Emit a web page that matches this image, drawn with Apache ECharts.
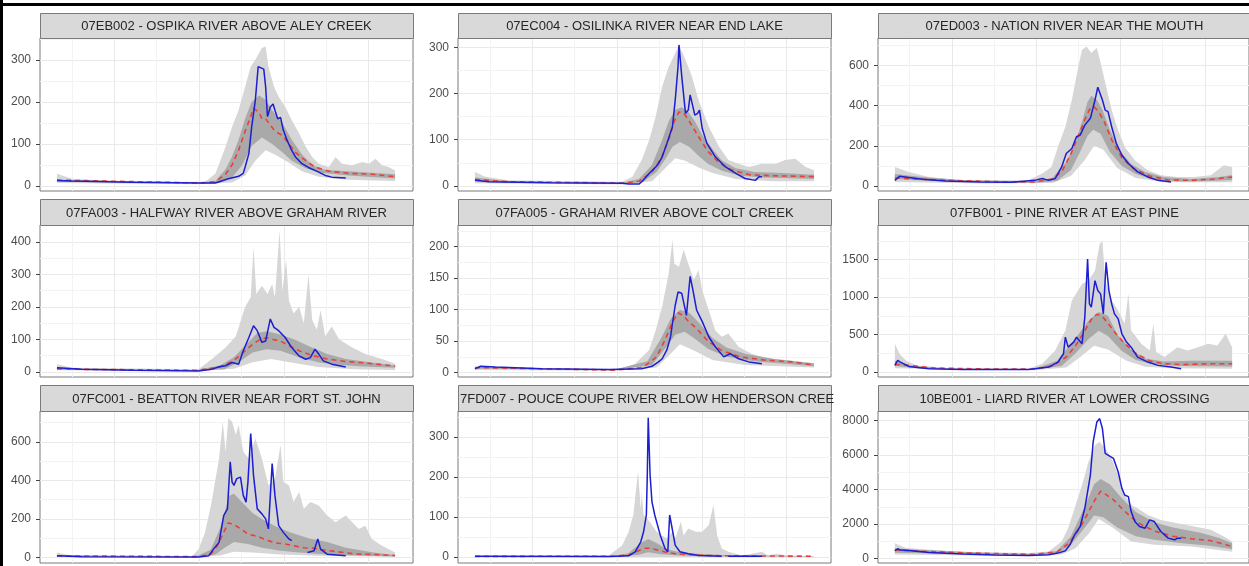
<!DOCTYPE html>
<html>
<head>
<meta charset="utf-8">
<script src="https://cdn.jsdelivr.net/npm/echarts@6/dist/echarts.min.js"></script>
<style>
html, body { margin: 0; padding: 0; background: #fff; }
#main { width: 1249px; height: 566px; }
</style>
</head>
<body>
<div id="main"></div>
<script>
// station strips, left to right, top to bottom
var titles = [
	'07EB002 - OSPIKA RIVER ABOVE ALEY CREEK',
	'07EC004 - OSILINKA RIVER NEAR END LAKE',
	'07ED003 - NATION RIVER NEAR THE MOUTH',
	'07FA003 - HALFWAY RIVER ABOVE GRAHAM RIVER',
	'07FA005 - GRAHAM RIVER ABOVE COLT CREEK',
	'07FB001 - PINE RIVER AT EAST PINE',
	'07FC001 - BEATTON RIVER NEAR FORT ST. JOHN',
	'7FD007 - POUCE COUPE RIVER BELOW HENDERSON CREE',
	'10BE001 - LIARD RIVER AT LOWER CROSSING'
];

// free y scales (ggplot style, 5% padding)
var yMin = [-12, -11, -25, -15.5, -7, -66, -29, -15, -247];
var yMax = [352, 320, 737, 452, 234.5, 1960, 760, 365, 8533];
var yTicks = [
	[0, 100, 200, 300],
	[0, 100, 200, 300],
	[0, 200, 400, 600],
	[0, 100, 200, 300, 400],
	[0, 50, 100, 150, 200],
	[0, 500, 1000, 1500],
	[0, 200, 400, 600],
	[0, 100, 200, 300],
	[0, 2000, 4000, 6000, 8000]
];

// day of year (0..364)
var xMin = -18.2, xMax = 382.2;
var dayBreaks = [61.5, 152.5, 243.5, 334.5];
var dayMinorBreaks = [16, 107, 198, 289];

// historical maximum
var maxFlow = [
	[[0,29],[16,17],[60,12],[120,10],[159,10],[170,29],[181,93],[188,141],[195,180],[202,236],[208,284],[213,300],[220,328],[224,332],[227,284],[233,236],[238,212],[245,188],[252,157],[260,125],[267,93],[274,69],[281,53],[292,45],[299,69],[306,53],[317,49],[328,57],[335,53],[342,65],[349,49],[356,45],[363,37]],
	[[0,30],[11,20],[36,12],[158,9],[169,20],[179,56],[187,99],[194,150],[201,215],[208,258],[215,287],[219,305],[226,273],[233,236],[240,186],[251,128],[262,85],[272,56],[283,48],[294,41],[308,48],[323,48],[333,56],[344,59],[355,41],[364,34]],
	[[0,95],[15,70],[37,45],[73,28],[144,28],[159,62],[169,95],[176,195],[184,295],[191,428],[198,595],[202,678],[207,695],[212,662],[218,688],[223,595],[228,495],[234,378],[241,278],[248,195],[259,128],[273,78],[287,53],[305,45],[323,45],[341,53],[355,103],[364,95]],
	[[0,24],[16,13],[152,8],[166,39],[181,75],[192,110],[202,200],[208,230],[211,385],[214,240],[220,265],[226,240],[231,270],[234,230],[239,436],[242,250],[246,345],[249,220],[254,180],[260,200],[265,150],[270,300],[274,160],[279,130],[283,190],[288,110],[295,140],[303,100],[317,75],[331,55],[349,40],[363,25]],
	[[0,9],[22,6],[158,5],[172,14],[187,36],[194,67],[201,105],[208,158],[212,211],[214,173],[219,168],[224,195],[229,173],[235,147],[240,163],[244,131],[251,99],[258,67],[265,57],[272,62],[283,41],[297,30],[315,22],[333,17],[364,12]],
	[[0,377],[5,244],[12,155],[23,89],[55,58],[144,44],[159,111],[173,288],[184,554],[191,953],[202,1175],[209,1219],[216,1352],[221,1707],[224,1751],[227,1219],[234,953],[241,820],[248,643],[252,1042],[255,554],[266,377],[275,288],[279,643],[282,266],[291,199],[305,332],[316,288],[327,332],[338,377],[348,355],[357,510],[364,332]],
	[[0,26],[16,9],[145,5],[152,43],[159,130],[166,287],[174,513],[178,704],[181,548],[184,722],[188,704],[192,635],[195,687],[200,548],[206,513],[213,617],[220,513],[227,374],[234,409],[240,583],[243,391],[249,374],[254,287],[260,339],[265,252],[272,287],[281,270],[290,217],[299,183],[310,217],[317,183],[324,148],[331,165],[338,96],[349,61],[363,26]],
	[[0,3],[144,4],[151,17],[158,29],[165,63],[170,105],[175,214],[178,121],[179,163],[181,105],[185,96],[190,80],[195,63],[201,54],[206,46],[212,63],[215,46],[221,88],[224,54],[229,71],[237,63],[244,63],[251,80],[256,130],[260,54],[265,21],[272,13],[287,4],[308,13],[315,4],[323,8],[337,3],[364,2]],
	[[0,900],[12,615],[73,385],[144,325],[166,420],[180,1000],[187,1765],[194,2915],[202,4258],[209,5600],[216,6560],[221,6751],[227,6367],[234,5792],[241,4833],[248,3682],[255,3107],[262,2915],[273,2532],[287,2244],[305,2052],[323,1860],[341,1669],[355,1285],[364,997]]
];

// 75th percentile
var p75Flow = [
	[[0,15],[152,8],[170,12],[181,40],[188,70],[195,110],[202,160],[209,200],[217,215],[224,205],[231,180],[242,150],[252,110],[263,75],[274,50],[288,38],[313,35],[363,28]],
	[[0,18],[36,10],[158,7],[176,15],[190,45],[201,100],[208,140],[215,165],[222,170],[229,160],[236,140],[244,110],[255,80],[265,55],[280,38],[300,30],[330,28],[364,24]],
	[[0,60],[30,45],[70,30],[150,22],[170,40],[185,120],[195,220],[202,320],[208,420],[212,450],[218,430],[224,380],[232,280],[242,180],[255,110],[270,70],[290,45],[320,35],[350,45],[364,55]],
	[[0,12],[30,8],[150,6],[175,20],[190,45],[205,90],[215,120],[225,125],[240,115],[255,100],[270,80],[290,55],[310,40],[340,28],[363,20]],
	[[0,9],[150,5],[185,18],[200,55],[210,85],[220,100],[230,95],[240,80],[255,55],[270,40],[290,30],[320,22],[364,15]],
	[[0,150],[20,80],[60,45],[150,40],[175,150],[195,450],[210,700],[220,800],[230,750],[240,500],[255,300],[270,180],[290,140],[320,150],[364,150]],
	[[0,12],[150,6],[165,40],[175,150],[185,320],[190,330],[200,280],[210,230],[220,200],[235,160],[250,130],[270,100],[290,80],[310,50],[340,25],[363,12]],
	[[0,1],[150,2],[165,10],[178,35],[186,45],[195,35],[205,20],[220,12],[240,8],[265,5],[364,2]],
	[[0,600],[30,500],[100,350],[150,280],[175,450],[190,1300],[205,3000],[215,4300],[222,4600],[232,4300],[245,3500],[260,2700],[280,2100],[300,1800],[330,1500],[350,1200],[364,900]]
];

// median
var medianFlow = [
	[[0,14],[152,7],[170,10],[181,28],[188,50],[195,85],[202,130],[208,165],[211,185],[217,175],[220,160],[224,160],[229,145],[234,130],[242,120],[249,100],[256,80],[267,60],[277,45],[292,35],[313,30],[338,28],[363,22]],
	[[0,14],[36,9],[158,6],[176,10],[190,30],[200,60],[208,100],[214,140],[219,160],[224,158],[230,140],[236,120],[242,100],[250,75],[262,50],[275,35],[295,24],[320,22],[364,20]],
	[[0,40],[20,35],[60,28],[120,20],[150,20],[170,35],[180,70],[190,160],[198,250],[205,330],[210,380],[215,395],[220,370],[226,320],[234,230],[245,140],[258,85],[275,50],[295,30],[320,28],[345,35],[364,45]],
	[[0,10],[30,8],[150,5],[175,15],[190,35],[200,60],[210,85],[218,100],[225,105],[232,100],[240,95],[250,80],[260,65],[275,50],[290,40],[310,32],[330,28],[350,22],[363,18]],
	[[0,8],[150,4],[180,8],[195,25],[205,55],[212,80],[218,95],[224,90],[230,80],[238,70],[250,50],[265,35],[285,25],[310,20],[340,17],[364,12]],
	[[0,100],[15,90],[40,55],[100,40],[150,38],[170,80],[185,200],[195,350],[205,550],[212,700],[218,770],[224,740],[230,650],[238,520],[248,380],[260,250],[275,150],[290,110],[310,100],[340,110],[364,110]],
	[[0,8],[150,4],[165,15],[172,60],[178,120],[184,180],[190,170],[197,150],[205,120],[215,110],[225,90],[235,75],[245,70],[255,60],[265,50],[275,48],[285,40],[300,30],[320,18],[340,15],[363,10]],
	[[0,1.5],[150,2],[165,5],[175,15],[182,22],[188,22],[195,18],[205,12],[215,8],[230,6],[250,4],[270,3],[364,2]],
	[[0,500],[20,450],[80,330],[150,250],[175,400],[188,900],[200,1800],[210,2800],[216,3400],[222,3900],[228,3700],[236,3400],[245,2900],[255,2400],[265,2000],[280,1600],[300,1300],[320,1150],[340,1050],[355,850],[364,700]]
];

// 25th percentile
var p25Flow = [
	[[0,10],[152,6],[174,7],[188,20],[199,50],[209,95],[220,115],[231,100],[242,80],[252,60],[267,42],[281,32],[313,25],[363,18]],
	[[0,10],[36,7],[158,5],[180,8],[195,30],[205,60],[212,85],[220,95],[230,85],[240,65],[250,48],[265,33],[285,22],[310,18],[364,15]],
	[[0,35],[40,25],[150,15],[175,25],[190,80],[200,170],[208,250],[214,280],[222,260],[232,170],[245,100],[260,60],[280,30],[310,22],[340,25],[364,30]],
	[[0,7],[150,4],[180,8],[195,30],[210,60],[225,70],[240,65],[260,45],[280,30],[300,22],[330,17],[363,13]],
	[[0,6],[150,4],[190,12],[205,40],[215,60],[225,65],[235,55],[250,38],[270,25],[300,18],[364,10]],
	[[0,80],[30,45],[150,30],[180,80],[195,250],[210,450],[220,550],[230,480],[245,280],[260,160],[280,100],[310,80],[364,75]],
	[[0,6],[150,3],[170,15],[180,50],[190,80],[205,70],[220,50],[240,35],[260,25],[290,15],[330,8],[363,5]],
	[[0,0.5],[150,1],[175,5],[186,12],[200,7],[220,4],[265,2],[364,1]],
	[[0,350],[50,300],[150,200],[175,300],[190,800],[205,1800],[215,2500],[225,2400],[240,1800],[260,1300],[280,1100],[310,900],[340,750],[364,550]]
];

// historical minimum
var minFlow = [
	[[0,7],[152,4],[188,8],[202,25],[213,60],[224,85],[234,75],[249,55],[263,35],[281,22],[313,15],[363,12]],
	[[0,6],[158,3],[190,10],[205,40],[215,60],[225,55],[240,40],[255,28],[280,15],[320,10],[364,10]],
	[[0,20],[100,12],[170,15],[190,50],[205,130],[215,200],[225,180],[240,90],[260,40],[290,18],[364,18]],
	[[0,5],[150,3],[190,10],[210,30],[230,40],[250,30],[280,15],[320,8],[363,6]],
	[[0,4],[150,3],[195,8],[210,30],[220,45],[235,35],[255,20],[290,12],[364,8]],
	[[0,50],[150,25],[185,60],[200,200],[215,350],[230,300],[250,150],[270,70],[300,50],[364,45]],
	[[0,4],[150,2],[175,10],[190,30],[210,25],[240,15],[280,8],[363,3]],
	[[0,0],[364,0]],
	[[0,250],[150,150],[180,250],[195,600],[210,1500],[220,2300],[235,1800],[255,1000],[280,800],[320,700],[364,400]]
];

// current year (null = missing record)
var currentFlow = [
	[[0,13],[16,12],[80,9],[152,7],[170,7],[174,10],[184,17],[195,23],[200,30],[202,45],[206,77],[209,140],[213,205],[216,284],[218,280],[222,278],[224,236],[226,165],[229,188],[232,195],[234,180],[237,160],[240,163],[243,133],[247,109],[251,89],[256,69],[263,53],[270,44],[277,37],[281,33],[288,25],[295,21],[310,19]],
	[[0,12],[15,9],[80,7],[158,6],[165,4],[176,4],[179,9],[187,27],[194,41],[197,48],[201,63],[206,92],[212,128],[215,186],[218,258],[219,305],[222,237],[226,157],[229,164],[231,197],[234,171],[236,153],[239,157],[241,164],[244,124],[249,92],[258,63],[269,41],[280,27],[290,16],[301,12],[305,20],[308,20]],
	[[0,28],[5,48],[15,42],[30,33],[55,25],[91,20],[126,18],[151,28],[159,37],[166,28],[173,37],[180,95],[185,162],[191,187],[196,245],[200,253],[205,303],[211,337],[216,428],[219,492],[221,487],[224,428],[227,378],[230,370],[234,295],[239,212],[245,153],[252,112],[262,70],[273,45],[284,28],[298,20]],
	[[0,13],[27,8],[81,5],[152,3],[166,8],[174,16],[181,19],[188,29],[195,24],[200,65],[206,106],[211,142],[215,127],[220,91],[224,95],[229,163],[233,137],[238,127],[245,106],[252,75],[260,49],[267,39],[272,44],[277,70],[281,55],[286,34],[295,24],[310,15]],
	[[0,6],[6,10],[22,9],[72,6],[144,5],[179,6],[190,10],[197,17],[201,22],[206,36],[210,57],[212,78],[215,107],[218,128],[222,126],[227,91],[231,153],[234,131],[238,99],[244,81],[251,57],[258,41],[267,25],[274,30],[283,22],[294,17],[308,14]],
	[[0,89],[3,155],[6,133],[15,75],[37,44],[73,35],[144,35],[166,66],[176,133],[182,244],[184,465],[187,332],[193,399],[196,465],[202,377],[205,731],[208,1507],[210,909],[212,864],[216,1219],[219,1086],[222,1042],[225,776],[228,1463],[231,1086],[234,909],[237,776],[241,709],[245,510],[250,399],[255,332],[262,199],[273,133],[284,89],[298,66],[309,44]],
	[[0,9],[27,3],[152,2],[163,9],[168,43],[174,78],[179,217],[183,252],[186,496],[188,391],[190,374],[193,409],[197,417],[200,322],[203,287],[205,391],[208,643],[211,426],[215,252],[220,226],[224,200],[227,148],[231,487],[234,322],[238,165],[243,130],[249,96],[252,87],[260,null],[269,26],[276,35],[280,96],[283,43],[290,17],[310,9]],
	[[0,2],[144,1],[165,3],[172,13],[178,38],[181,63],[184,105],[185,205],[186,348],[188,205],[190,138],[193,105],[199,54],[204,21],[207,13],[209,105],[211,80],[215,29],[220,13],[229,8],[240,4],[265,2],[268,null],[272,2],[308,2]],
	[[0,460],[3,575],[6,500],[15,480],[37,365],[73,270],[108,210],[144,190],[166,230],[176,325],[184,460],[189,805],[194,1380],[200,1860],[205,2915],[211,4833],[214,6751],[218,7902],[221,8094],[224,7518],[227,6080],[230,5984],[236,5792],[241,5025],[245,4066],[248,3682],[252,3587],[255,2723],[259,2148],[264,1860],[270,1764],[275,2244],[280,2148],[287,1573],[295,1189],[302,1093],[305,1189],[309,1189]]
];

var colLeft = [40, 458, 878];
var panelWidth = 373;
var stripTop = [13, 199, 385];
var plotTop = [38, 225, 411];
var plotHeight = [153, 152, 152];

// minor y breaks halfway between the labelled ones
function minorBreaks(ticks, max) {
	var step = ticks[1] - ticks[0];
	var out = [];
	for (var v = ticks[0] + step / 2; v < max; v += step) out.push(v);
	return out;
}

// ribbon between two curves, drawn as one polygon
function ribbon(i, upper, lower, color, z) {
	return {
		type: 'custom',
		xAxisIndex: 2 * i,
		yAxisIndex: 2 * i,
		data: [[0, 0]],
		silent: true,
		z: z,
		renderItem: function(params, api) {
			var pts = [];
			upper.forEach(function(p) { pts.push(api.coord(p)); });
			lower.slice().reverse().forEach(function(p) { pts.push(api.coord(p)); });
			return {
				type: 'polygon',
				shape: { points: pts },
				style: { fill: color }
			};
		}
	};
}

var grids = [], xAxes = [], yAxes = [], series = [], graphics = [];

for (var i = 0; i < 9; i++) {
	var r = Math.floor(i / 3), c = i % 3;
	grids.push({
		left: colLeft[c], top: plotTop[r], width: panelWidth, height: plotHeight[r],
		show: true, borderColor: '#7a7a7a', borderWidth: 1, backgroundColor: 'transparent'
	});
	xAxes.push({
		gridIndex: i, type: 'value', min: xMin, max: xMax,
		axisLine: { show: false, onZero: false }, axisLabel: { show: false },
		axisTick: { show: false, customValues: dayBreaks },
		splitLine: { show: true, lineStyle: { color: '#e9e9e9', width: 1 } }
	});
	xAxes.push({
		gridIndex: i, type: 'value', min: xMin, max: xMax,
		axisLine: { show: false, onZero: false }, axisLabel: { show: false },
		axisTick: { show: false, customValues: dayMinorBreaks },
		splitLine: { show: true, lineStyle: { color: '#f3f3f3', width: 1 } }
	});
	yAxes.push({
		gridIndex: i, type: 'value', position: 'left', min: yMin[i], max: yMax[i],
		axisLine: { show: false, onZero: false },
		axisTick: { show: true, length: 4, lineStyle: { color: '#444' }, customValues: yTicks[i] },
		axisLabel: {
			color: '#4d4d4d', fontSize: 12, margin: 9, customValues: yTicks[i],
			formatter: function(v) { return String(v); }
		},
		splitLine: { show: true, lineStyle: { color: '#e9e9e9', width: 1 } }
	});
	yAxes.push({
		gridIndex: i, type: 'value', position: 'left', min: yMin[i], max: yMax[i],
		axisLine: { show: false, onZero: false }, axisLabel: { show: false },
		axisTick: { show: false, customValues: minorBreaks(yTicks[i], yMax[i]) },
		splitLine: { show: true, lineStyle: { color: '#f3f3f3', width: 1 } }
	});

	series.push(ribbon(i, maxFlow[i], minFlow[i], '#d6d6d6', 1));
	series.push(ribbon(i, p75Flow[i], p25Flow[i], '#a9a9a9', 2));
	series.push({
		type: 'line', xAxisIndex: 2 * i, yAxisIndex: 2 * i, data: medianFlow[i],
		showSymbol: false, silent: true, z: 3,
		lineStyle: { color: '#e8413a', width: 1.6, type: [5, 4] }
	});
	series.push({
		type: 'line', xAxisIndex: 2 * i, yAxisIndex: 2 * i, data: currentFlow[i],
		showSymbol: false, silent: true, z: 4, connectNulls: false,
		lineStyle: { color: '#1d1dd2', width: 1.5 }
	});

	// facet strip
	graphics.push({
		type: 'rect', z: 10,
		shape: { x: colLeft[c] + 0.5, y: stripTop[r] + 0.5, width: panelWidth, height: plotTop[r] - stripTop[r] },
		style: { fill: '#d9d9d9', stroke: '#7a7a7a', lineWidth: 1 }
	});
	graphics.push({
		type: 'text', z: 11,
		x: i == 7 ? colLeft[c] + 2 : colLeft[c] + panelWidth / 2,
		y: (stripTop[r] + plotTop[r]) / 2 + 1,
		style: {
			text: titles[i],
			textAlign: i == 7 ? 'left' : 'center',
			textVerticalAlign: 'middle',
			font: '13px "Liberation Sans", Arial, sans-serif',
			fill: '#262626'
		}
	});
}

// black frame of the screenshot
graphics.push({ type: 'rect', z: 20, shape: { x: 0, y: 0, width: 3, height: 566 }, style: { fill: '#000' } });
graphics.push({ type: 'rect', z: 20, shape: { x: 0, y: 3, width: 1249, height: 3 }, style: { fill: '#000' } });

var myChart = echarts.init(document.getElementById('main'));
var option = {
	backgroundColor: '#fff',
	animation: false,
	textStyle: { fontFamily: '"Liberation Sans", Arial, sans-serif' },
	grid: grids,
	xAxis: xAxes,
	yAxis: yAxes,
	series: series,
	graphic: graphics
};
myChart.setOption(option);
window.addEventListener("resize", function() {
	myChart.resize();
});
</script>
</body>
</html>
